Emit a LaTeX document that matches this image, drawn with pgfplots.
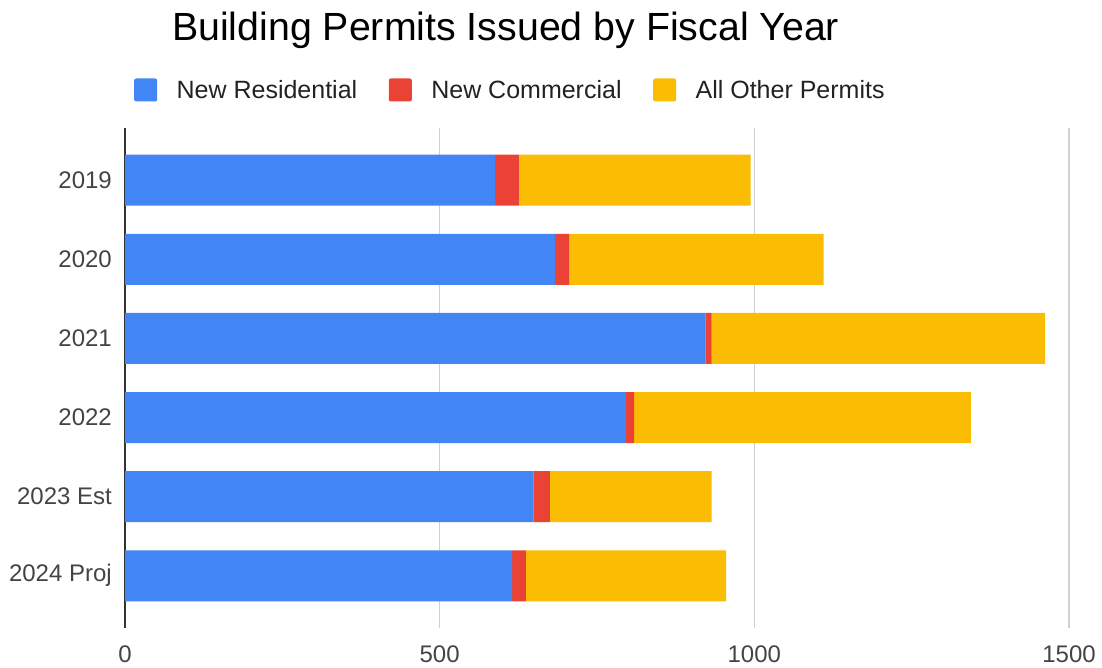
\documentclass[border=0pt]{standalone}
\usepackage{pgfplots}
\pgfplotsset{compat=1.18}
\usepackage{fontspec}
\setmainfont{Liberation Sans}
\definecolor{cblue}{HTML}{4285F4}
\definecolor{cred}{HTML}{EA4335}
\definecolor{cyellow}{HTML}{FBBC04}
\definecolor{tickgray}{HTML}{444444}
\definecolor{gridgray}{HTML}{D0D0D0}
\definecolor{axisgray}{HTML}{333333}
\definecolor{legtext}{HTML}{222222}
\begin{document}
\begin{tikzpicture}[x=1pt,y=1pt]
\useasboundingbox (0,0) rectangle (1102,668);
\node[anchor=base west, font=\fontsize{39.3}{47}\selectfont, text=black, inner sep=0pt] at (172,627) {Building Permits Issued by Fiscal Year};
\begin{axis}[
  at={(125pt,40pt)}, anchor=south west,
  scale only axis, width=944pt, height=500pt,
  xbar stacked, bar width=51pt,
  xmin=0, xmax=1500, ymin=-0.66, ymax=5.66,
  y dir=reverse,
  ytick={0,1,2,3,4,5},
  yticklabels={2019,2020,2021,2022,2023 Est,2024 Proj},
  xtick={0,500,1000,1500},
  xmajorgrids, grid style={gridgray, line width=1.3pt},
  extra x ticks={0}, extra x tick labels={},
  extra x tick style={grid style={axisgray, line width=1.5pt}},
  axis line style={draw=none},
  major tick length=0pt,
  tick label style={font=\fontsize{24}{28}\selectfont, text=tickgray},
  /pgf/number format/assume math mode=true,
  /pgf/number format/1000 sep={},
  yticklabel style={inner xsep=0pt, xshift=-13pt},
  xticklabel style={yshift=-14pt},
  legend columns=3,
  legend style={at={(0.0095,1.076)}, anchor=west, draw=none, fill=none,
    font=\fontsize{25}{30}\selectfont, text=legtext, inner sep=0pt,
    nodes={inner sep=0pt},
    /tikz/every odd column/.append style={column sep=19.5pt},
    /tikz/every even column/.append style={column sep=31.5pt}},
  legend image code/.code={\path[#1, draw=none, rounded corners=2pt] (0pt,-11.5pt) rectangle (23pt,11.5pt);},
]
\addplot[fill=cblue, draw=none] coordinates {(588,0) (683,1) (922,2) (796,3) (649,4) (615,5)};
\addplot[fill=cred, draw=none] coordinates {(38,0) (23,1) (10,2) (13,3) (26,4) (22,5)};
\addplot[fill=cyellow, draw=none] coordinates {(368,0) (404,1) (530,2) (535,3) (257,4) (318,5)};
\legend{New Residential, New Commercial, All Other Permits}
\end{axis}
\end{tikzpicture}
\end{document}
